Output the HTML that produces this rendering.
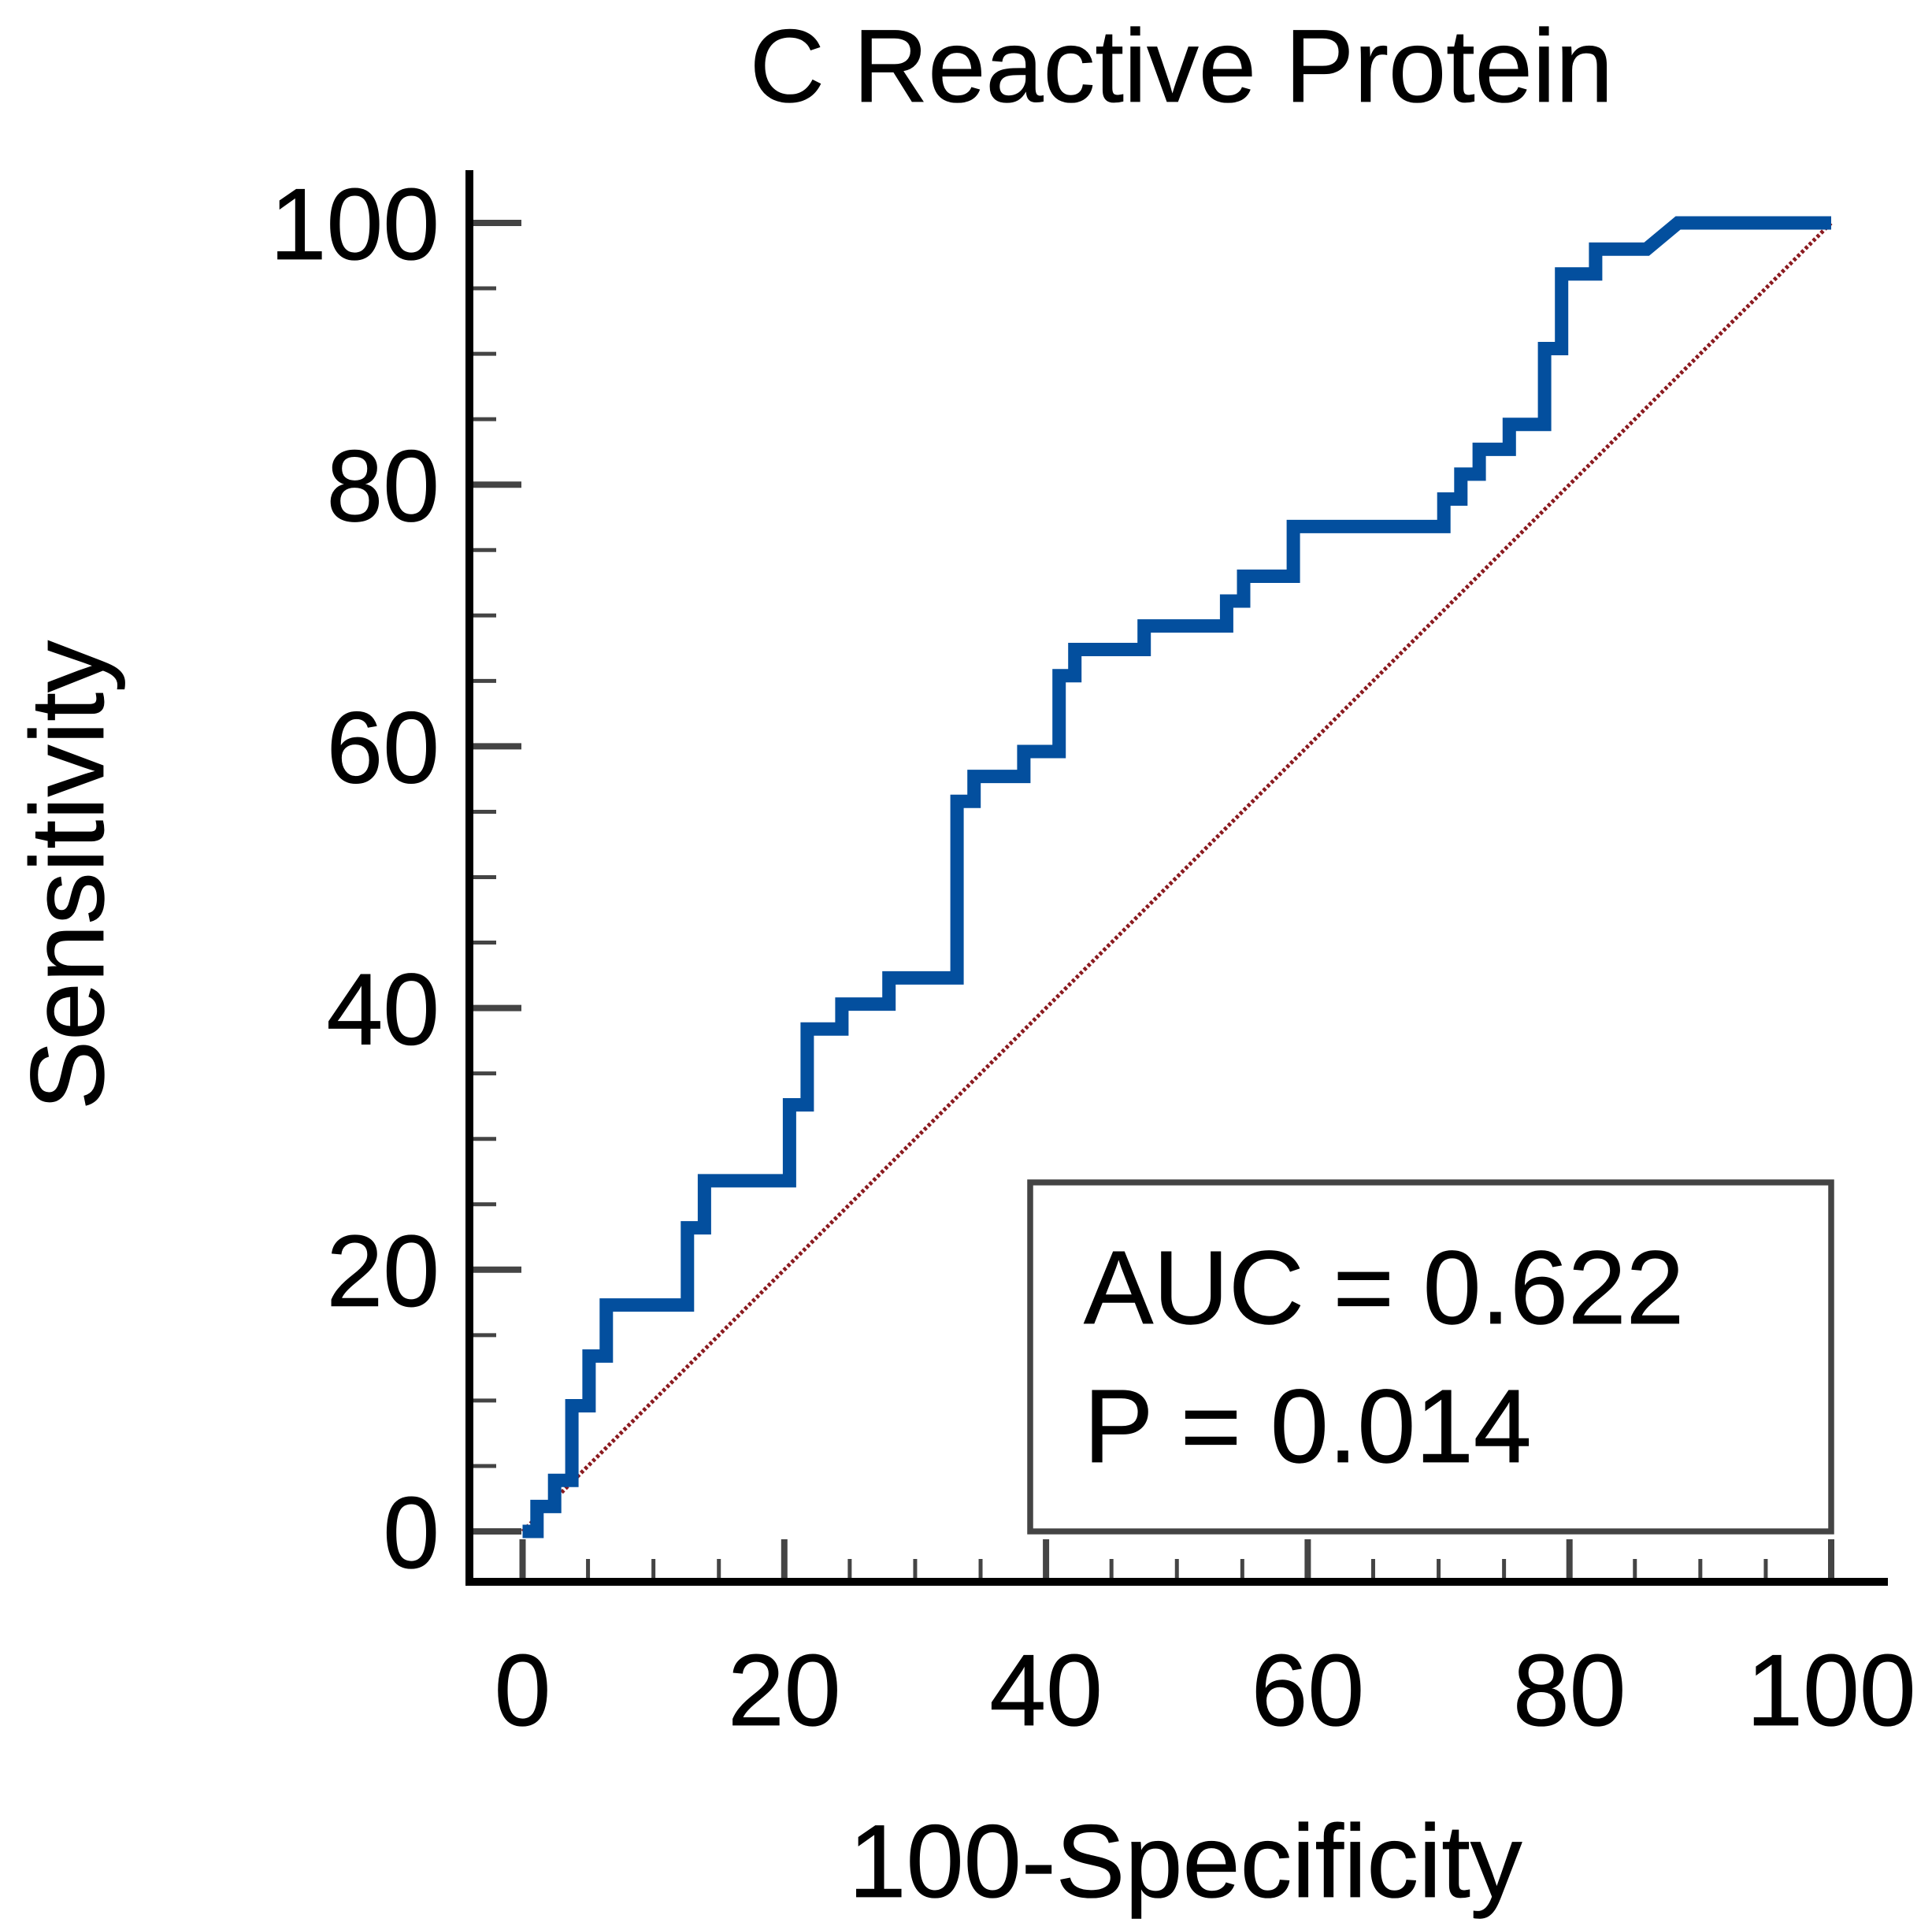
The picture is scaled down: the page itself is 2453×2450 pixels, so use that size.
<!DOCTYPE html>
<html lang="en">
<head>
<meta charset="utf-8">
<title>C Reactive Protein ROC curve</title>
<style>
html,body{margin:0;padding:0;background:#fff;}
svg{display:block;}
text{font-family:"Liberation Sans",Arial,sans-serif;fill:#000;stroke:#000;stroke-width:0.8px;}
</style>
</head>
<body>
<svg id="chart" xmlns="http://www.w3.org/2000/svg" width="2453" height="2450" viewBox="0 0 2453 2450">
  <rect x="0" y="0" width="2453" height="2450" fill="#fff"/>
  <text x="1500" y="129" font-size="131.5" text-anchor="middle">C Reactive Protein</text>
  <text transform="translate(131,1111) rotate(-90)" font-size="132.5" text-anchor="middle">Sensitivity</text>
  <text x="1505" y="2408" font-size="131.5" text-anchor="middle">100-Specificity</text>
  <g id="ticks"></g>
  <g id="labels"></g>
  <line x1="596" y1="216" x2="596" y2="2012" stroke="#000" stroke-width="10"/>
  <line x1="591" y1="2008" x2="2397" y2="2008" stroke="#000" stroke-width="10"/>
  <line id="diag" stroke="#8b1a1f" stroke-width="5" stroke-dasharray="4 3"/>
  <path id="roc" fill="none" stroke="#034f9e" stroke-width="17" stroke-linejoin="miter" stroke-linecap="butt"/>
  <rect x="1308" y="1501" width="1017" height="443" fill="none" stroke="#444" stroke-width="7.5"/>
  <text x="1376" y="1680" font-size="132.5">AUC = 0.622</text>
  <text x="1376" y="1856" font-size="132.5">P = 0.014</text>
</svg>
<script>
const fprValues = [0,1.1,1.1,2.45,2.45,3.77,3.77,5.08,5.08,6.4,6.4,12.6,12.6,13.9,13.9,20.4,20.4,21.75,21.75,24.4,24.4,28,28,33.2,33.2,34.5,34.5,38.3,38.3,41,41,42.2,42.2,47.5,47.5,53.8,53.8,55.1,55.1,58.9,58.9,70.4,70.4,71.7,71.7,73.1,73.1,75.4,75.4,78.1,78.1,79.4,79.4,82,82,85.9,88.3,100];
const sensitivityValues = [0,0,1.9,1.9,3.9,3.9,9.6,9.6,13.4,13.4,17.3,17.3,23.2,23.2,26.8,26.8,32.6,32.6,38.4,38.4,40.3,40.3,42.3,42.3,55.8,55.8,57.7,57.7,59.6,59.6,65.4,65.4,67.4,67.4,69.2,69.2,71.1,71.1,73,73,76.8,76.8,78.9,78.9,80.8,80.8,82.7,82.7,84.6,84.6,90.4,90.4,96.1,96.1,98,98,100,100];
const majorTicks = [0,20,40,60,80,100];
const minorTicks = [5,10,15,25,30,35,45,50,55,65,70,75,85,90,95];

const xScale = v => 663.5 + v * 16.615;
const yScale = v => 1944 - v * 16.61;
const NS = 'http://www.w3.org/2000/svg';
const ticksG = document.getElementById('ticks');
const labelsG = document.getElementById('labels');

function tickLine(x1, y1, x2, y2, w) {
  const l = document.createElementNS(NS, 'line');
  l.setAttribute('x1', x1);
  l.setAttribute('y1', y1);
  l.setAttribute('x2', x2);
  l.setAttribute('y2', y2);
  l.setAttribute('stroke', '#444');
  l.setAttribute('stroke-width', w);
  ticksG.appendChild(l);
  return l;
}
function tickText(x, y, anchor, s) {
  const t = document.createElementNS(NS, 'text');
  t.setAttribute('x', x);
  t.setAttribute('y', y);
  t.setAttribute('font-size', 129);
  t.setAttribute('text-anchor', anchor);
  t.textContent = s;
  labelsG.appendChild(t);
  return t;
}
majorTicks.forEach(v => {
  const a = tickLine(xScale(v), 2007, xScale(v), 1954, 8);
  
  
  const b = tickLine(596, yScale(v), 662, yScale(v), 8);
  
  
  const c = tickText(xScale(v), 2190, 'middle', String(v));
  
  
  const d = tickText(558, yScale(v) + 46, 'end', String(v));
  
  
});
minorTicks.forEach(v => {
  const a = tickLine(xScale(v), 2007, xScale(v), 1979, 5);
  
  
  const b = tickLine(596, yScale(v), 630, yScale(v), 5);
  
  
});
const diag = document.getElementById('diag');
diag.setAttribute('x1', xScale(0));
diag.setAttribute('y1', yScale(0));
diag.setAttribute('x2', xScale(100));
diag.setAttribute('y2', yScale(100));
document.getElementById('roc').setAttribute('d',
  fprValues.map((v, i) => (i ? 'L' : 'M') + xScale(v).toFixed(1) + ' ' + yScale(sensitivityValues[i]).toFixed(1)).join(' '));
</script>
</body>
</html>
